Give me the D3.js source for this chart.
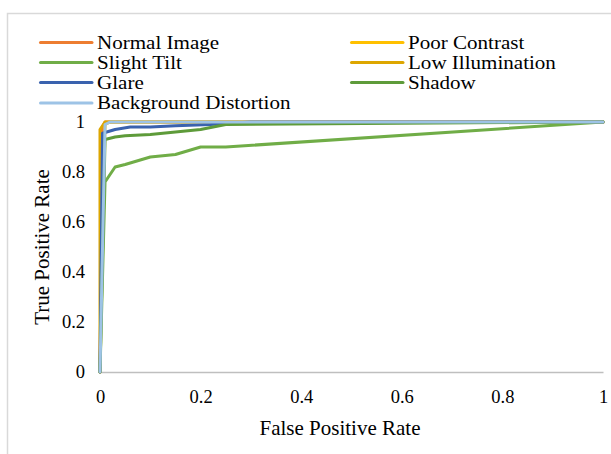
<!DOCTYPE html>
<html>
<head>
<meta charset="utf-8">
<script src="https://cdn.jsdelivr.net/npm/d3@7"></script>
<style>
  html, body { margin: 0; padding: 0; background: #fff; }
  svg { display: block; font-family: "Liberation Serif", "Times New Roman", serif; }
</style>
</head>
<body>
<svg id="chart" width="611" height="454"></svg>
<script>
const seriesNames = ["Normal Image", "Poor Contrast", "Slight Tilt", "Low Illumination", "Glare", "Shadow", "Background Distortion"];
const seriesColors = ["#ED7D31", "#FFC000", "#70AD47", "#DDA600", "#3A62AE", "#5E9B3A", "#9DC3E6"];

const normalFpr = [0, 0.005, 0.01, 1];
const normalTpr = [0, 0.98, 1, 1];
const poorFpr = [0, 0.01, 0.02, 1];
const poorTpr = [0, 0.99, 1, 1];
const tiltFpr = [0, 0.01, 0.03, 0.05, 0.1, 0.15, 0.2, 0.25, 1];
const tiltTpr = [0, 0.76, 0.82, 0.83, 0.86, 0.87, 0.9, 0.9, 1];
const lowFpr = [0, 0, 0.01, 1];
const lowTpr = [0, 0.97, 1, 1];
const glareFpr = [0, 0.005, 0.03, 0.06, 0.1, 0.15, 0.22, 0.3, 1];
const glareTpr = [0, 0.955, 0.97, 0.98, 0.98, 0.985, 0.99, 1, 1];
const shadowFpr = [0, 0.01, 0.03, 0.05, 0.1, 0.15, 0.2, 0.25, 1];
const shadowTpr = [0, 0.93, 0.94, 0.945, 0.95, 0.96, 0.97, 0.99, 1];
const bgFpr = [0, 0.01, 0.02, 1];
const bgTpr = [0, 0.99, 1, 1];

const xTicks = [0, 0.2, 0.4, 0.6, 0.8, 1];
const yTicks = [0, 0.2, 0.4, 0.6, 0.8, 1];

const allFpr = [normalFpr, poorFpr, tiltFpr, lowFpr, glareFpr, shadowFpr, bgFpr];
const allTpr = [normalTpr, poorTpr, tiltTpr, lowTpr, glareTpr, shadowTpr, bgTpr];

const svg = d3.select("#chart");

// outer chart border (extends past the viewport on right/bottom)
svg.append("rect").attr("x", 7.5).attr("y", 13.5).attr("width", 640).attr("height", 480)
  .attr("fill", "none").attr("stroke", "#d9d9d9").attr("stroke-width", 1.5);

const x = d3.scaleLinear().domain([0, 1]).range([100, 603]);
const y = d3.scaleLinear().domain([0, 1]).range([372, 122]);

// x axis
const xAxis = d3.axisBottom(x).tickValues(xTicks).tickFormat(d => d3.format("")(d)).tickSize(0).tickPadding(0);
const gx = svg.append("g").attr("transform", "translate(0,372)").call(xAxis);
gx.select(".domain").attr("stroke", "#bfbfbf").attr("stroke-width", 1.5);
gx.selectAll("text").attr("font-size", 18.5).attr("fill", "#000").attr("font-family", "Liberation Serif")
  .attr("dy", null).attr("y", 31);

// y axis
const yAxis = d3.axisLeft(y).tickValues(yTicks).tickFormat(d => d3.format("")(d)).tickSize(0).tickPadding(0);
const gy = svg.append("g").call(yAxis);
gy.attr("transform", "translate(100,0)");
gy.select(".domain").remove();
gy.selectAll("text").attr("font-size", 18.5).attr("fill", "#000").attr("font-family", "Liberation Serif")
  .attr("x", -15).attr("dy", "0.32em");

// lines
const line = d3.line().x(d => x(d[0])).y(d => y(d[1]));
seriesNames.forEach((name, i) => {
  const pts = allFpr[i].map((v, j) => [v, allTpr[i][j]]);
  svg.append("path").datum(pts).attr("d", line)
    .attr("fill", "none").attr("stroke", seriesColors[i]).attr("stroke-width", 3)
    .attr("stroke-linejoin", "round").attr("stroke-linecap", "round");
});

// axis titles
svg.append("text").attr("x", 340).attr("y", 428).attr("dy", "0.35em").attr("text-anchor", "middle")
  .attr("font-size", 21).attr("fill", "#000").text("False Positive Rate");
svg.append("text").attr("transform", "translate(42,247) rotate(-90)").attr("dy", "0.35em")
  .attr("text-anchor", "middle").attr("font-size", 21).attr("fill", "#000").text("True Positive Rate");

// legend (tight rows as in the reference; glyphs widened slightly)
const legendCols = [39, 350];
const legendRows = [42.5, 62.5, 82.5, 103];
seriesNames.forEach((name, i) => {
  const cx = legendCols[i % 2];
  const cy = legendRows[Math.floor(i / 2)];
  svg.append("line").attr("x1", cx + 1.5).attr("x2", cx + 53).attr("y1", cy).attr("y2", cy)
    .attr("stroke", seriesColors[i]).attr("stroke-width", 3).attr("stroke-linecap", "round");
  svg.append("text").attr("transform", `translate(${cx + 58},${cy}) scale(1.17,1)`).attr("dy", "0.34em")
    .attr("font-size", 18).attr("fill", "#000").text(name);
});
</script>
</body>
</html>
